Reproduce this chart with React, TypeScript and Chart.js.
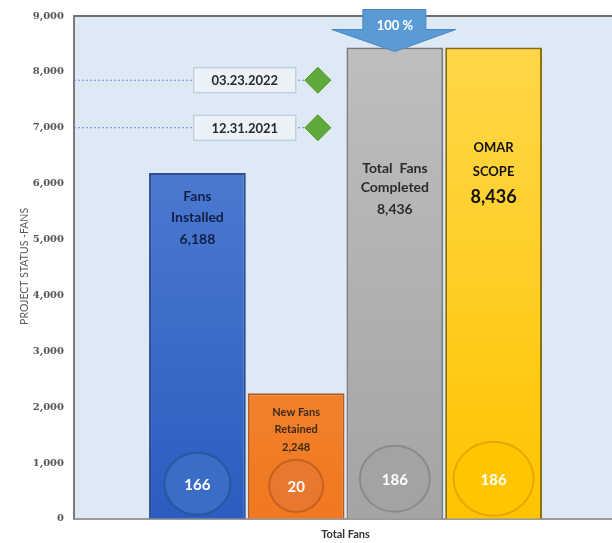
import React, { useEffect, useRef } from "react";
import { Chart, registerables } from "chart.js";

Chart.register(...registerables);

const categoryTitle = "Total Fans";
const yAxisTitle = "PROJECT STATUS -FANS";
const seriesNames = ["Fans Installed", "New Fans Retained", "Total Fans Completed", "OMAR SCOPE"];
const seriesValues = [6188, 2248, 8436, 8436];
const circleValues = [166, 20, 186, 186];
const barLabelLines = [
  ["Fans", "Installed", "6,188"],
  ["New Fans", "Retained", "2,248"],
  ["Total  Fans", "Completed", "8,436"],
  ["OMAR", "SCOPE", "8,436"],
];
const milestoneLabels = ["03.23.2022", "12.31.2021"];
const milestoneValues = [7850, 7000];
const yTicks = [0, 1000, 2000, 3000, 4000, 5000, 6000, 7000, 8000, 9000];
const arrowLabel = "100 %";

const gradTop = ["#5a86d8", "#f89a50", "#c0c0c0", "#ffd84e"];
const gradBot = ["#2b5cc0", "#f07820", "#a4a4a4", "#ffc400"];
const borderCols = ["#2d4f8f", "#b85a18", "#7a7a7a", "#8c6e00"];
const circleFill = ["#3b6dc6", "#e8782e", "#a3a3a3", "#ffc600"];
const circleBorder = ["#2a559f", "#c8601e", "#8a8a8a", "#e2a900"];

const FONT = "Lato, 'Open Sans', sans-serif";
const X_MIN = -0.25;
const X_MAX = 5.25;
const DIAMOND_X = 2.22;
const BOX_X = 1.48;

const CANVAS_LEFT = 0;
const CANVAS_W = 631;
const CANVAS_H = 543;

const overlay = {
  id: "overlay",
  beforeDraw(chart: any) {
    const { ctx, chartArea: a } = chart;
    ctx.save();
    ctx.fillStyle = "#dde9f5";
    ctx.fillRect(a.left, a.top, a.right - a.left, a.bottom - a.top);
    ctx.strokeStyle = "#6f6f6f";
    ctx.lineWidth = 2;
    ctx.beginPath();
    ctx.moveTo(a.left, a.top);
    ctx.lineTo(a.right, a.top);
    ctx.stroke();
    ctx.translate(25, (a.top + a.bottom) / 2 - 1);
    ctx.rotate(-Math.PI / 2);
    ctx.fillStyle = "#5a5a5a";
    ctx.font = `10.5px ${FONT}`;
    ctx.textAlign = "center";
    ctx.textBaseline = "middle";
    ctx.fillText(yAxisTitle, 0, 0);
    ctx.restore();
  },
  afterDatasetsDraw(chart: any) {
    const { ctx, chartArea: a } = chart;
    const ys = chart.scales.y;
    const xs = chart.scales.x;
    ctx.save();
    milestoneValues.forEach((v, i) => {
      const y = ys.getPixelForValue(v);
      const cx = xs.getPixelForValue(BOX_X);
      const w = 102, h = 25;
      ctx.fillStyle = "rgba(236,242,250,0.92)";
      ctx.strokeStyle = "#b9c2cc";
      ctx.lineWidth = 1;
      ctx.fillRect(cx - w / 2, y - h / 2, w, h);
      ctx.strokeRect(cx - w / 2, y - h / 2, w, h);
      ctx.fillStyle = "#2a2a2a";
      ctx.font = `bold 13px ${FONT}`;
      ctx.textAlign = "center";
      ctx.textBaseline = "middle";
      ctx.fillText(milestoneLabels[i], cx, y + 1);
    });
    const meta = chart.getDatasetMeta(0);
    seriesValues.forEach((_, i) => {
      const bar = meta.data[i];
      const x = bar.x;
      const top = bar.y;
      const lines = barLabelLines[i];
      ctx.textAlign = "center";
      ctx.textBaseline = "middle";
      let offs: number[], fonts: string[], col: string;
      if (i === 0) {
        offs = [23, 44, 66];
        fonts = [`bold 14px ${FONT}`, `bold 14px ${FONT}`, `bold 14px ${FONT}`];
        col = "#0f1f45";
      } else if (i === 1) {
        offs = [19, 36, 54];
        fonts = [`bold 11px ${FONT}`, `bold 11px ${FONT}`, `bold 11px ${FONT}`];
        col = "#3a2a1a";
      } else if (i === 2) {
        offs = [121, 140, 162];
        fonts = [`bold 14px ${FONT}`, `bold 14px ${FONT}`, `bold 14px ${FONT}`];
        col = "#2b2b2b";
      } else {
        offs = [100, 124, 150];
        fonts = [`bold 13px ${FONT}`, `bold 13px ${FONT}`, `bold 18px ${FONT}`];
        col = "#111111";
      }
      lines.forEach((t, k) => {
        ctx.font = fonts[k];
        ctx.fillStyle = col;
        ctx.fillText(t, x, top + offs[k]);
      });
      const radii = [[33, 31], [27, 26], [35, 33], [40, 37]][i];
      const cyOff = [35, 33, 40, 40][i];
      const cy = a.bottom - cyOff;
      ctx.beginPath();
      ctx.ellipse(x, cy, radii[0], radii[1], 0, 0, Math.PI * 2);
      ctx.fillStyle = circleFill[i];
      ctx.fill();
      ctx.lineWidth = 2;
      ctx.strokeStyle = circleBorder[i];
      ctx.stroke();
      ctx.fillStyle = "#ffffff";
      ctx.font = `bold 15px ${FONT}`;
      ctx.fillText(String(circleValues[i]), x, cy + 1);
    });
    const gbar = meta.data[2];
    const ax = gbar.x;
    const tip = gbar.y + 4;
    ctx.beginPath();
    ctx.moveTo(ax, tip);
    ctx.lineTo(ax - 63, tip - 22);
    ctx.lineTo(ax - 32, tip - 22);
    ctx.lineTo(ax - 32, tip - 42);
    ctx.lineTo(ax + 31, tip - 42);
    ctx.lineTo(ax + 31, tip - 22);
    ctx.lineTo(ax + 61, tip - 22);
    ctx.closePath();
    ctx.fillStyle = "#5b9bd5";
    ctx.fill();
    ctx.strokeStyle = "#4a86c0";
    ctx.lineWidth = 1;
    ctx.stroke();
    ctx.fillStyle = "#ffffff";
    ctx.font = `bold 13px ${FONT}`;
    ctx.fillText(arrowLabel, ax, tip - 26);
    ctx.restore();
  },
};

export default function App() {
  const ref = useRef<HTMLCanvasElement>(null);
  useEffect(() => {
    document.body.style.margin = "0";
    document.body.style.overflow = "hidden";
    const barSet: any = {
      type: "bar",
      label: categoryTitle,
      data: seriesValues.map((v, i) => ({ x: i + 1, y: v })),
      backgroundColor: (c: any) => {
        const ch = c.chart;
        const area = ch.chartArea;
        const i = c.dataIndex ?? 0;
        if (!area) return gradBot[i];
        const g = ch.ctx.createLinearGradient(0, area.top, 0, area.bottom);
        g.addColorStop(0, gradTop[i]);
        g.addColorStop(1, gradBot[i]);
        return g;
      },
      borderColor: borderCols,
      borderWidth: 2,
      barPercentage: 0.98,
      categoryPercentage: 1,
      order: 1,
    };
    const lineSets: any[] = milestoneValues.map((v, i) => ({
      type: "line",
      label: milestoneLabels[i],
      data: [
        { x: X_MIN, y: v },
        { x: DIAMOND_X, y: v },
      ],
      borderColor: "#6b8cc7",
      borderWidth: 1,
      borderDash: [2, 2],
      pointStyle: "rectRot",
      pointRadius: [0, 13],
      pointBackgroundColor: "#5faa3a",
      pointBorderColor: "#4f9a2c",
      pointBorderWidth: 1,
      fill: false,
      order: 0,
    }));
    const chart = new Chart(ref.current!, {
      type: "bar",
      data: { datasets: [barSet, ...lineSets] },
      options: {
        animation: false,
        responsive: false,
        maintainAspectRatio: false,
        layout: { padding: { top: 16, right: 0, left: 0, bottom: 2 } },
        plugins: { legend: { display: false }, tooltip: { enabled: false } },
        scales: {
          x: {
            type: "linear",
            min: X_MIN,
            max: X_MAX,
            offset: false,
            grid: { display: false },
            border: { display: true, color: "#9a9a9a", width: 2 },
            ticks: { display: false },
            title: {
              display: true,
              text: categoryTitle,
              color: "#333",
              font: { family: FONT, size: 11, weight: "bold" },
              padding: { top: 1, bottom: 0 },
            },
          },
          y: {
            min: 0,
            max: 9000,
            afterBuildTicks: (s: any) => {
              s.ticks = yTicks.map((v) => ({ value: v }));
            },
            afterFit: (s: any) => {
              s.width = 74;
            },
            grid: { display: false, drawTicks: false, tickLength: 0 },
            border: { display: true, color: "#7a7a7a", width: 2 },
            ticks: {
              color: "#555",
              padding: 10,
              font: { family: "'DejaVu Serif', serif", size: 10, weight: "bold" },
              callback: (v: any) => Number(v).toLocaleString("en-US"),
            },
            title: { display: false },
          },
        },
      },
      plugins: [overlay],
    } as any);
    return () => chart.destroy();
  }, []);
  return (
    <div style={{ position: "fixed", left: 0, top: 0, width: 612, height: 543, overflow: "hidden", background: "#fff" }}>
      <div style={{ position: "absolute", left: CANVAS_LEFT, top: 0, width: CANVAS_W, height: CANVAS_H }}>
        <canvas ref={ref} width={CANVAS_W} height={CANVAS_H} style={{ display: "block", width: CANVAS_W, height: CANVAS_H }} />
      </div>
    </div>
  );
}
